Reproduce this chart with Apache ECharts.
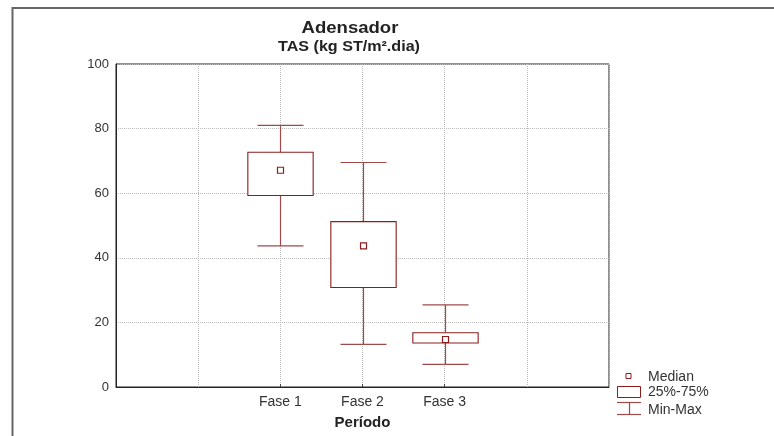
<!DOCTYPE html>
<html>
<head>
<meta charset="utf-8">
<script src="https://cdn.jsdelivr.net/npm/echarts@6/dist/echarts.min.js"></script>
<style>html,body{margin:0;padding:0;background:#fff}#c{width:774px;height:436px}</style>
</head>
<body>
<div id="c"></div>
<script>
var categories = ['', '', 'Fase 1', 'Fase 2', 'Fase 3', '', ''];
var boxCategories = ['Fase 1', 'Fase 2', 'Fase 3'];
var minValues = [43.7, 13.2, 7.0];
var q1Values = [59.3, 30.8, 13.6];
var medianValues = [67.1, 43.7, 14.7];
var q3Values = [72.7, 51.2, 16.8];
var maxValues = [81.0, 69.5, 25.4];
var yTicks = [0, 20, 40, 60, 80, 100];

var RED = '#8b1c1c';
var WHISK = '#9e4a4a';
var FONT = 'Liberation Sans, Arial, sans-serif';

var boxData = boxCategories.map(function (c, i) {
  return [categories.indexOf(c), minValues[i], q1Values[i], medianValues[i], q3Values[i], maxValues[i]];
});

function renderBox(params, api) {
  var x = api.value(0);
  var pMin = api.coord([x, api.value(1)]);
  var pQ1 = api.coord([x, api.value(2)]);
  var pMed = api.coord([x, api.value(3)]);
  var pQ3 = api.coord([x, api.value(4)]);
  var pMax = api.coord([x, api.value(5)]);
  var step = api.size([1, 0])[0];
  var bw = step * 0.795;
  var cw = step * 0.56;
  var cx = Math.round(pMin[0]) + 0.5;
  var ls = {stroke: WHISK, lineWidth: 1.2, fill: null};
  return {
    type: 'group',
    children: [
      {type: 'line', shape: {x1: cx, y1: pMin[1], x2: cx, y2: pQ1[1]}, style: ls},
      {type: 'line', shape: {x1: cx, y1: pQ3[1], x2: cx, y2: pMax[1]}, style: ls},
      {type: 'line', shape: {x1: cx - cw / 2, y1: pMin[1], x2: cx + cw / 2, y2: pMin[1]}, style: ls},
      {type: 'line', shape: {x1: cx - cw / 2, y1: pMax[1], x2: cx + cw / 2, y2: pMax[1]}, style: ls},
      {type: 'rect', shape: {x: cx - bw / 2, y: pQ3[1], width: bw, height: pQ1[1] - pQ3[1]}, style: {stroke: RED, lineWidth: 1.1, fill: '#fff'}},
      {type: 'rect', shape: {x: cx - 3, y: pMed[1] - 3, width: 6, height: 6}, style: {stroke: RED, lineWidth: 1.2, fill: '#fff'}}
    ]
  };
}

var chart = echarts.init(document.getElementById('c'));
chart.setOption({
  animation: false,
  backgroundColor: '#fff',
  grid: {left: 116, right: 165, top: 64, bottom: 49, show: true, borderColor: '#222', borderWidth: 1, backgroundColor: 'transparent'},
  xAxis: {
    type: 'category',
    data: categories,
    boundaryGap: false,
    name: 'Período',
    nameLocation: 'middle',
    nameGap: 28,
    nameTextStyle: {fontFamily: FONT, fontSize: 15, fontWeight: 'bold', color: '#222'},
    axisLine: {lineStyle: {color: '#222', width: 1}},
    axisTick: {show: true, inside: true, length: 3, lineStyle: {color: '#444'},
      interval: function (i, v) { return v !== ''; }},
    axisLabel: {fontFamily: FONT, fontSize: 14, color: '#333', margin: 8, interval: 0},
    splitLine: {show: true, lineStyle: {color: '#bbb', type: [1, 1], width: 1}}
  },
  yAxis: {
    type: 'value',
    min: yTicks[0],
    max: yTicks[yTicks.length - 1],
    interval: yTicks[1] - yTicks[0],
    axisLine: {show: true, lineStyle: {color: '#222', width: 1}},
    axisTick: {show: false},
    axisLabel: {fontFamily: FONT, fontSize: 13, color: '#333', margin: 7},
    splitLine: {show: true, lineStyle: {color: '#bbb', type: [1, 1], width: 1}}
  },
  series: [{
    type: 'custom',
    renderItem: renderBox,
    encode: {x: 0, y: [1, 2, 3, 4, 5]},
    data: boxData,
    z: 5
  }],
  graphic: [
    {type: 'rect', shape: {x: 12.5, y: 8, width: 800, height: 500}, style: {stroke: '#666', lineWidth: 2, fill: null}, silent: true},
    {type: 'text', x: 350, y: 28, scaleX: 1.09, style: {text: 'Adensador', fontFamily: FONT, fontSize: 17, fontWeight: 'bold', fill: '#222', textAlign: 'center', textVerticalAlign: 'middle'}},
    {type: 'text', x: 349, y: 47, scaleX: 1.15, style: {text: 'TAS (kg ST/m².dia)', fontFamily: FONT, fontSize: 14, fontWeight: 'bold', fill: '#222', textAlign: 'center', textVerticalAlign: 'middle'}},
    {type: 'rect', shape: {x: 626, y: 373.5, width: 5, height: 5}, style: {stroke: RED, lineWidth: 1, fill: '#fff'}},
    {type: 'text', x: 648, y: 377, style: {text: 'Median', fontFamily: FONT, fontSize: 14, fill: '#333', textVerticalAlign: 'middle'}},
    {type: 'rect', shape: {x: 617.5, y: 386.5, width: 23, height: 11}, style: {stroke: RED, lineWidth: 1, fill: '#fff'}},
    {type: 'text', x: 648, y: 392, style: {text: '25%-75%', fontFamily: FONT, fontSize: 14, fill: '#333', textVerticalAlign: 'middle'}},
    {type: 'line', shape: {x1: 617, y1: 402.5, x2: 641, y2: 402.5}, style: {stroke: WHISK, lineWidth: 1.2}},
    {type: 'line', shape: {x1: 617, y1: 414.5, x2: 641, y2: 414.5}, style: {stroke: WHISK, lineWidth: 1.2}},
    {type: 'line', shape: {x1: 629.5, y1: 402.5, x2: 629.5, y2: 414.5}, style: {stroke: WHISK, lineWidth: 1.2}},
    {type: 'text', x: 648, y: 410, style: {text: 'Min-Max', fontFamily: FONT, fontSize: 14, fill: '#333', textVerticalAlign: 'middle'}}
  ]
});
</script>
</body>
</html>
